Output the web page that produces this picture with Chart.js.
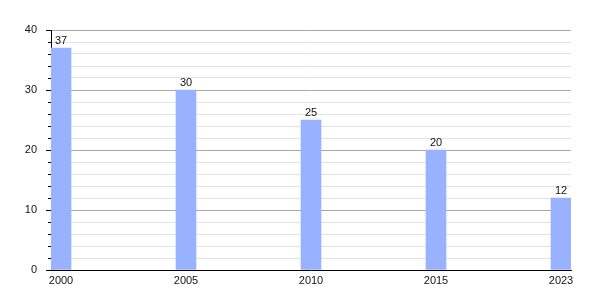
<!DOCTYPE html>
<html>
<head>
<meta charset="utf-8">
<script src="https://cdn.jsdelivr.net/npm/chart.js@4"></script>
<style>
  html, body { margin: 0; padding: 0; background: #fff; }
  #wrap { width: 600px; height: 300px; }
</style>
</head>
<body>
<div id="wrap"><canvas id="chart" width="600" height="300"></canvas></div>
<script>
// chart data
const years = ['2000', '2005', '2010', '2015', '2023'];
const values = [37, 30, 25, 20, 12];
const yTicks = [0, 10, 20, 30, 40];

const barColor = '#99b2ff';

// value labels above the bars + y tick marks (major long, minor short)
const extrasPlugin = {
    id: 'extras',
    afterDatasetsDraw(chart) {
        const ctx = chart.ctx;
        const meta = chart.getDatasetMeta(0);
        ctx.save();
        ctx.font = '11px "Liberation Sans", Arial, sans-serif';
        ctx.fillStyle = '#111';
        ctx.textAlign = 'center';
        ctx.textBaseline = 'bottom';
        meta.data.forEach((bar, i) => {
            ctx.fillText(String(values[i]), bar.x, bar.y - 2);
        });

        const yScale = chart.scales.y;
        const left = chart.chartArea.left;
        ctx.strokeStyle = '#000';
        ctx.lineWidth = 1;
        for (let v = 0; v <= 40; v += 2) {
            const py = Math.round(yScale.getPixelForValue(v)) + 0.5;
            const len = v % 10 === 0 ? 5 : 3;
            ctx.beginPath();
            ctx.moveTo(left - len, py);
            ctx.lineTo(left, py);
            ctx.stroke();
        }
        ctx.restore();
    }
};

new Chart(document.getElementById('chart'), {
    type: 'bar',
    data: {
        datasets: [{
            data: years.map((y, i) => ({ x: i, y: values[i] })),
            backgroundColor: barColor,
            barThickness: 20
        }]
    },
    options: {
        responsive: false,
        animation: false,
        layout: { padding: { left: 0, top: 30, right: 29, bottom: 0 } },
        plugins: {
            legend: { display: false },
            tooltip: { enabled: false }
        },
        scales: {
            x: {
                type: 'linear',
                offset: false,
                min: -0.08,
                max: 4.08,
                afterBuildTicks: (axis) => {
                    axis.ticks = years.map((y, i) => ({ value: i }));
                },
                afterFit: (axis) => { axis.height = 30; },
                grid: { display: false, drawTicks: false, offset: false },
                border: { display: true, color: '#000', width: 1 },
                ticks: {
                    autoSkip: false,
                    maxRotation: 0,
                    padding: 4,
                    color: '#111',
                    font: { family: '"Liberation Sans", Arial, sans-serif', size: 11 },
                    callback: (v) => years[v] ?? ''
                }
            },
            y: {
                min: 0,
                max: 40,
                afterBuildTicks: (axis) => {
                    const t = [];
                    for (let v = 0; v <= 40; v += 2) t.push({ value: v });
                    axis.ticks = t;
                },
                afterFit: (axis) => { axis.width = 51; },
                grid: {
                    drawTicks: false,
                    color: (c) => c.tick && c.tick.value % 10 === 0 ? '#a8a8a8' : '#e2e2e2'
                },
                border: { display: true, color: '#000', width: 1 },
                ticks: {
                    autoSkip: false,
                    padding: 14,
                    color: '#111',
                    font: { family: '"Liberation Sans", Arial, sans-serif', size: 11 },
                    callback: (v) => yTicks.includes(v) ? String(v) : ''
                }
            }
        }
    },
    plugins: [extrasPlugin]
});
</script>
</body>
</html>
